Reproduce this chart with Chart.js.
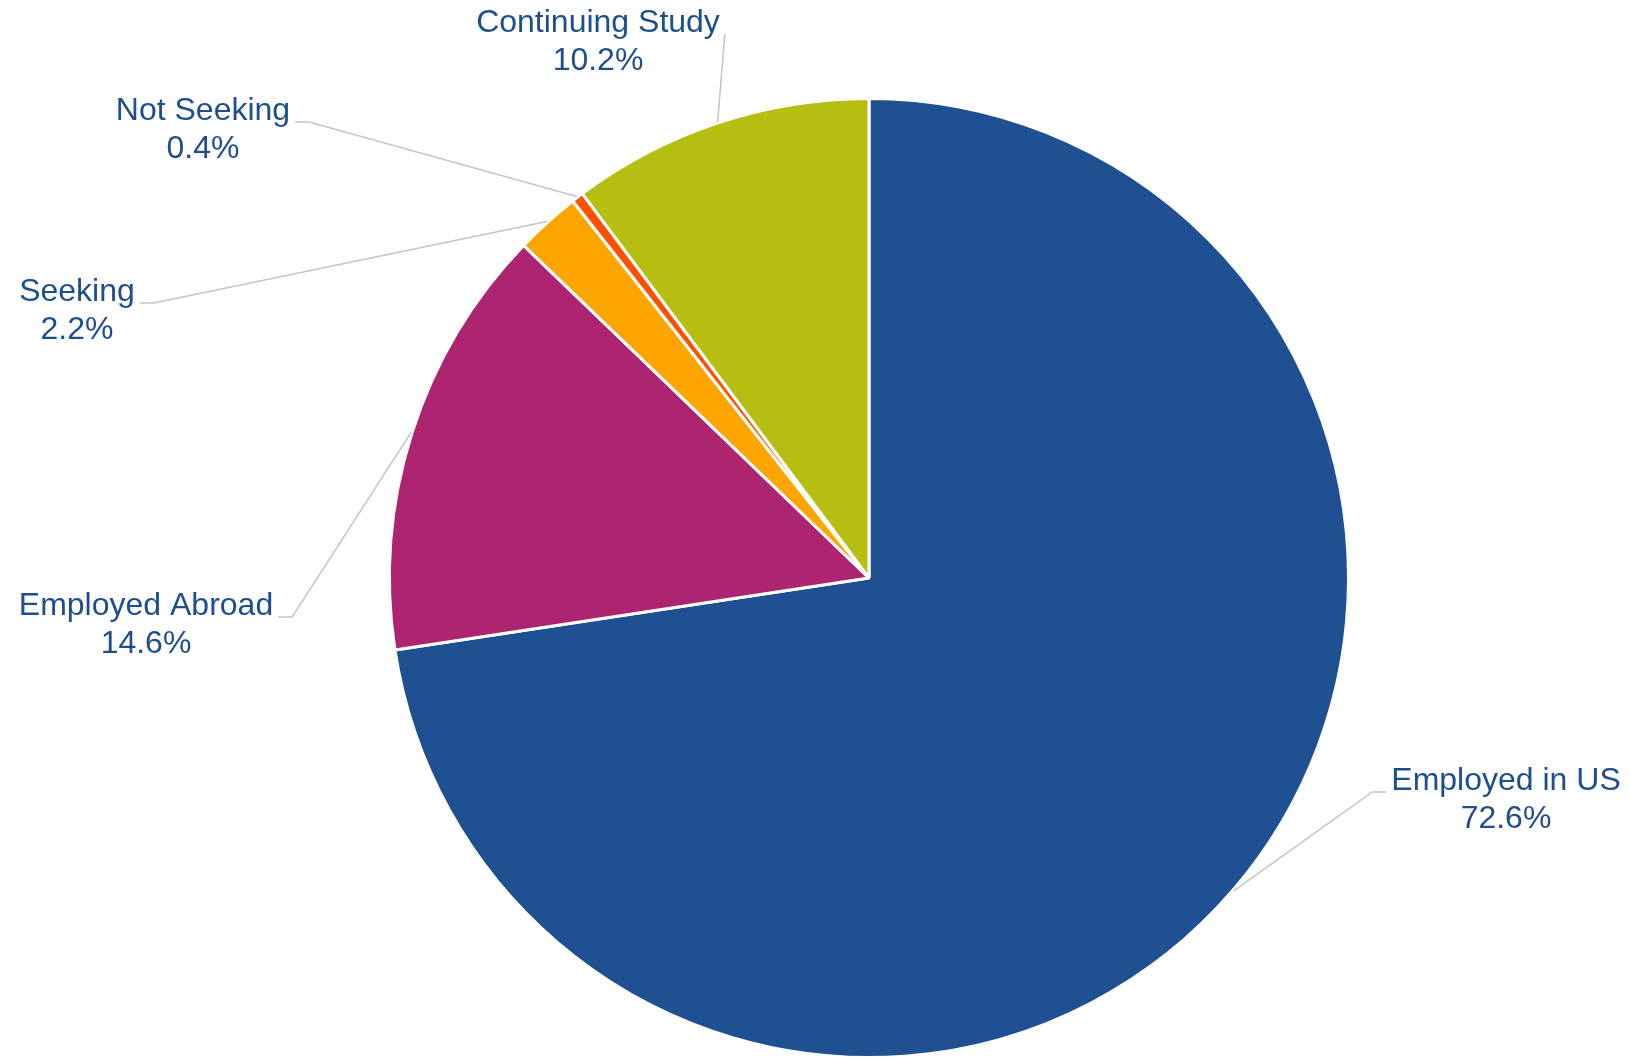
<!DOCTYPE html>
<html>
<head>
<meta charset="utf-8">
<script src="https://cdn.jsdelivr.net/npm/chart.js@4/dist/chart.umd.min.js"></script>
<style>
  html, body { margin: 0; padding: 0; background: #fff; overflow: hidden; }
  #wrap { width: 1630px; height: 1057px; overflow: hidden; }
</style>
</head>
<body>
<div id="wrap"><canvas id="pieChart" width="1630" height="1059"></canvas></div>
<script>
// data
var categories = ["Employed in US", "Employed Abroad", "Seeking", "Not Seeking", "Continuing Study"];
var shares = [72.6, 14.6, 2.2, 0.4, 10.2];
var sliceColors = ["#1F5091", "#AD2470", "#FFA500", "#FF5000", "#B7BE12"];

// where each label's first line is centred, and how long its little elbow is
var labelAt = [[1506, 781], [146, 606], [77, 292], [203, 111], [598, 23]];
var elbowLen = [14, 14, 14, 14, 0];

var outsideLabels = {
	id: 'outsideLabels',
	afterDatasetsDraw: function (chart) {
		var ctx = chart.ctx;
		var meta = chart.getDatasetMeta(0);
		ctx.save();
		ctx.font = '32px "Liberation Sans", Arial, sans-serif';
		ctx.textAlign = 'center';
		ctx.textBaseline = 'middle';
		meta.data.forEach(function (arc, i) {
			var p = arc.getProps(['x', 'y', 'startAngle', 'endAngle', 'outerRadius'], true);
			var mid = (p.startAngle + p.endAngle) / 2;
			var ax = p.x + Math.cos(mid) * (p.outerRadius + 1);
			var ay = p.y + Math.sin(mid) * (p.outerRadius + 1);
			var lx = labelAt[i][0], ly = labelAt[i][1];
			var w = ctx.measureText(categories[i]).width;
			var onRight = lx > p.x;
			var sx = onRight ? lx - w / 2 - 5 : lx + w / 2 + 5;
			var sy = ly + 11;
			var ex = onRight ? sx - elbowLen[i] : sx + elbowLen[i];

			ctx.strokeStyle = '#C4C4C4';
			ctx.lineWidth = 1.5;
			ctx.beginPath();
			ctx.moveTo(sx, sy);
			ctx.lineTo(ex, sy);
			ctx.lineTo(ax, ay);
			ctx.stroke();

			ctx.fillStyle = '#1F4E8C';
			ctx.fillText(categories[i], lx, ly);
			ctx.fillText(shares[i].toFixed(1) + '%', lx, ly + 38);
		});
		ctx.restore();
	}
};

var ctxP = document.getElementById("pieChart").getContext('2d');
var myPieChart = new Chart(ctxP, {
	type: 'pie',
	data: {
		labels: categories,
		datasets: [{
			data: shares,
			backgroundColor: sliceColors,
			borderColor: '#FFFFFF',
			borderWidth: 3
		}]
	},
	options: {
		responsive: false,
		animation: false,
		devicePixelRatio: 1,
		layout: { padding: { top: 97, bottom: 0, left: 388, right: 280 } },
		plugins: {
			legend: { display: false },
			tooltip: { enabled: false }
		}
	},
	plugins: [outsideLabels]
});
</script>
</body>
</html>
